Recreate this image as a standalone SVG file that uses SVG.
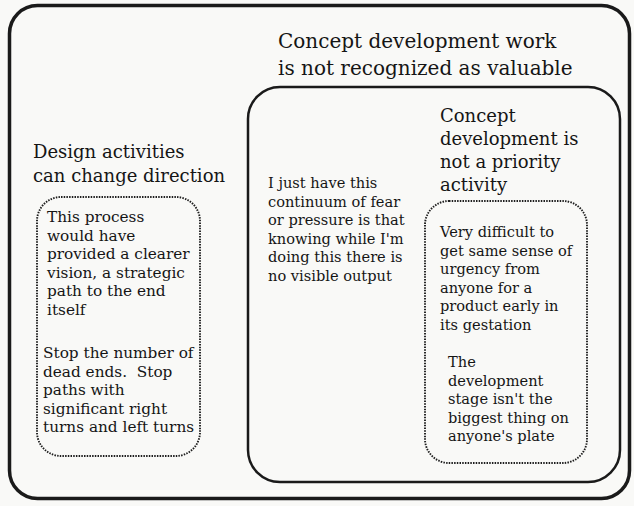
<svg xmlns="http://www.w3.org/2000/svg" width="634" height="506" viewBox="0 0 634 506">
  <style>
    .frame { fill: none; stroke: #1a1a1a; stroke-linejoin: round; }
    .dotted { fill: none; stroke: #1e1e1e; stroke-width: 1.9; stroke-dasharray: 1.5 1.2; }
    text { font-family: "DejaVu Serif", "Liberation Serif", serif; fill: #151515; }
    .title { font-size: 20px; }
    .head { font-size: 18px; }
    .body { font-size: 14.6px; }
    .bodyL { font-size: 15.3px; }
  </style>
  <rect x="0" y="0" width="634" height="506" fill="#f9f9f7"/>

  <g id="outer">
    <rect class="frame" x="9.5" y="5.5" width="620" height="493" rx="28" stroke-width="3.5"/>
    <text class="title" x="278" y="48">Concept development work</text>
    <text class="title" x="278" y="75">is not recognized as valuable</text>
  </g>

  <g id="design-activities">
    <text class="head" x="33" y="158">Design activities</text>
    <text class="head" x="33" y="182">can change direction</text>
    <g id="design-quotes">
      <rect class="dotted" x="37" y="197" width="163" height="259" rx="24"/>
      <text class="bodyL" x="47" y="222">This process</text>
      <text class="bodyL" x="47" y="240.5">would have</text>
      <text class="bodyL" x="47" y="259">provided a clearer</text>
      <text class="bodyL" x="47" y="277.5">vision, a strategic</text>
      <text class="bodyL" x="47" y="296">path to the end</text>
      <text class="bodyL" x="47" y="314.5">itself</text>
      <text class="bodyL" x="43" y="358">Stop the number of</text>
      <text class="bodyL" x="43" y="376.5" style="white-space:pre">dead ends.  Stop</text>
      <text class="bodyL" x="43" y="395">paths with</text>
      <text class="bodyL" x="43" y="413.5">significant right</text>
      <text class="bodyL" x="43" y="432">turns and left turns</text>
    </g>
  </g>

  <g id="not-valuable">
    <rect class="frame" x="248" y="87" width="372" height="395" rx="32" stroke-width="2.5"/>
    <g id="fear-quote">
      <text class="body" x="268" y="188">I just have this</text>
      <text class="body" x="268" y="206.5">continuum of fear</text>
      <text class="body" x="268" y="225">or pressure is that</text>
      <text class="body" x="268" y="243.5">knowing while I'm</text>
      <text class="body" x="268" y="262">doing this there is</text>
      <text class="body" x="268" y="280.5">no visible output</text>
    </g>
  </g>

  <g id="not-priority">
    <text class="head" x="440" y="122">Concept</text>
    <text class="head" x="440" y="145">development is</text>
    <text class="head" x="440" y="168">not a priority</text>
    <text class="head" x="440" y="191">activity</text>
    <g id="priority-quotes">
      <rect class="dotted" x="425" y="201" width="162" height="262" rx="24"/>
      <text class="body" x="440" y="237">Very difficult to</text>
      <text class="body" x="440" y="255.5">get same sense of</text>
      <text class="body" x="440" y="274">urgency from</text>
      <text class="body" x="440" y="292.5">anyone for a</text>
      <text class="body" x="440" y="311">product early in</text>
      <text class="body" x="440" y="329.5">its gestation</text>
      <text class="body" x="448" y="367">The</text>
      <text class="body" x="448" y="385.5">development</text>
      <text class="body" x="448" y="404">stage isn't the</text>
      <text class="body" x="448" y="422.5">biggest thing on</text>
      <text class="body" x="448" y="441">anyone's plate</text>
    </g>
  </g>
</svg>
